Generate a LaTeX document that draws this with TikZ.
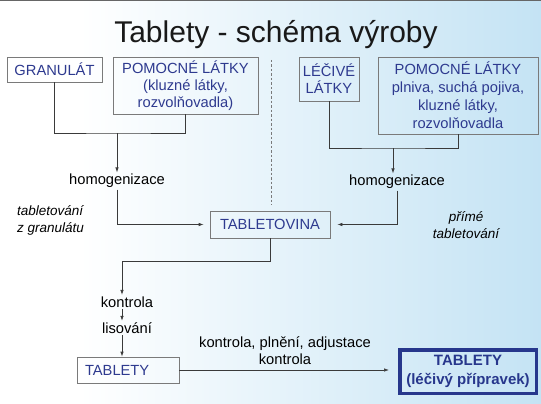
\documentclass[tikz,border=0pt]{standalone}
\usepackage{fontspec}
\setmainfont{Liberation Sans}
\usetikzlibrary{arrows.meta}
\definecolor{bgblue}{HTML}{C4E3F4}
\definecolor{txtblue}{HTML}{2E3A8F}
\definecolor{boxgray}{HTML}{7A7A7A}
\definecolor{lineg}{HTML}{3A3A3A}
\definecolor{finblue}{HTML}{27378C}
\newcommand{\mysz}{\fontsize{14.7pt}{17pt}\selectfont}
\begin{document}
\begin{tikzpicture}[x=1pt,y=-1pt,
  box/.style={draw=boxgray, line width=0.7pt, inner sep=0pt, align=center, text=txtblue, font=\mysz},
  plain/.style={inner sep=1.5pt, align=center, font=\mysz, text=black},
  lbl/.style={inner sep=0pt, font=\fontsize{13.5pt}{17pt}\selectfont\itshape, text=black},
  conn/.style={draw=lineg, line width=0.7pt},
  arr/.style={conn, -{Latex[length=5pt,width=3.5pt]}},
  sep/.style={draw=boxgray, line width=0.6pt, dash pattern=on 2.5pt off 2pt}
]
\useasboundingbox (0,0) rectangle (541,404);
\fill[white] (0,0) rectangle (541,404);
\shade[left color=white, right color=bgblue] (80,0) rectangle (541,404);
\fill[black!60] (0,0) rectangle (541,1.5);

\node[inner sep=0pt, font=\fontsize{30pt}{34pt}\selectfont, text=black!90] (title) at (276,35) {Tablety - schéma výroby};

\node[box, minimum width=95pt, minimum height=25pt] (gran) at (54.5,69.5) {GRANULÁT};
\node[box, minimum width=145pt, minimum height=57pt] (pom1) at (185.5,85.5) {POMOCNÉ LÁTKY\\(kluzné látky,\\rozvolňovadla)};
\node[box, minimum width=60pt, minimum height=44pt] (lec) at (329,79) {LÉČIVÉ\\LÁTKY};
\node[box, minimum width=160pt, minimum height=77pt, font=\fontsize{14.7pt}{18pt}\selectfont] (pom2) at (458,95.5) {POMOCNÉ LÁTKY\\plniva, suchá pojiva,\\kluzné látky,\\rozvolňovadla};

\coordinate (sepA) at (271,60);
\coordinate (sepB) at (271,205);
\draw[sep] (sepA) -- (sepB);

\node[plain] (homL) at (117,181) {homogenizace};
\node[plain] (homR) at (397,182) {homogenizace};
\node[box, minimum width=120pt, minimum height=27pt] (tab) at (270,224.5) {TABLETOVINA};

\node[lbl, align=left, anchor=west] (tzg) at (17,220.5) {tabletování\\z granulátu};
\node[lbl, align=center] (pt) at (466,225) {přímé\\tabletování};

\node[plain] (kontr) at (127,302) {kontrola};
\node[plain] (lis) at (127,328) {lisování};
\node[box, text width=86pt, inner xsep=8pt, minimum height=26pt, align=left] (tabl) at (128,370) {TABLETY};
\node[draw=finblue, line width=3.5pt, text=finblue, font=\bfseries\fontsize{15pt}{19pt}\selectfont, align=center, minimum width=136.5pt, minimum height=43.5pt, inner sep=0pt] (fin) at (468,371.5) {TABLETY\\(léčivý přípravek)};
\node[plain] (kpa) at (285,350.5) {kontrola, plnění, adjustace\\kontrola};

\coordinate (jL) at (117,133);
\draw[conn] (gran.south) |- (jL) -| (pom1.south);
\draw[arr] (jL) -- (homL.north);
\draw[arr, shorten >=6pt] (homL.south) |- (tab.west);

\coordinate (jR) at (393,148);
\draw[conn] (lec.south) |- (jR) -| (pom2.south);
\draw[arr] (jR) -- (jR |- homR.north);
\draw[arr, shorten >=7pt] (homR.south) |- (tab.east);

\coordinate (jK) at (122,261);
\draw[arr] (tab.south) |- (jK) -- (jK |- kontr.north);
\draw[arr] (jK |- kontr.south) -- (jK |- lis.north);
\draw[arr] (jK |- lis.south) -- (jK |- tabl.north);
\draw[arr, shorten >=9pt] (tabl.east) -- (tabl.east -| fin.west);
\end{tikzpicture}
\end{document}
